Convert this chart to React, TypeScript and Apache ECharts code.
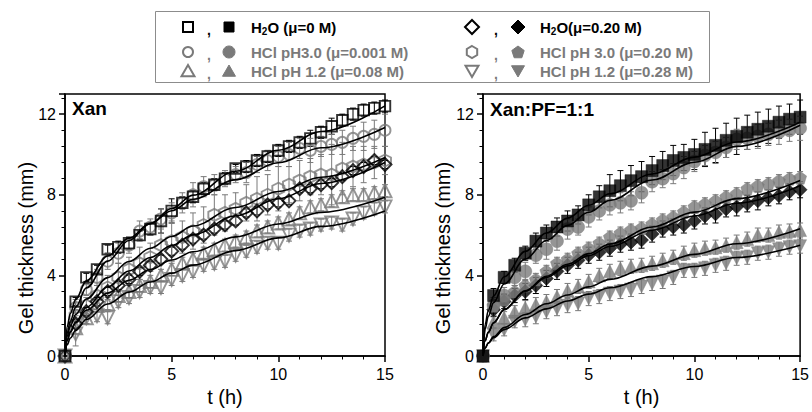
import React, { useEffect, useRef } from "react";
import * as echarts from "echarts";

// time points (h)
const T = [0, 0.5, 1, 1.5, 2, 2.5, 3, 3.5, 4, 4.5, 5, 5.5, 6, 6.5, 7, 7.5, 8, 8.5, 9, 9.5, 10, 10.5, 11, 11.5, 12, 12.5, 13, 13.5, 14, 14.5, 15];

// ---- Xan (left panel), open symbols ----
const L_SQ = [0, 2.7, 3.9, 4.3, 5.3, 5.4, 5.6, 6.0, 6.3, 6.7, 7.2, 7.6, 7.9, 8.3, 8.5, 8.8, 9.3, 9.4, 9.7, 9.9, 10.2, 10.4, 10.6, 10.8, 11.1, 11.4, 11.7, 12.0, 12.2, 12.3, 12.4];
const L_CI = [0, 2.4, 3.3, 3.9, 4.7, 5.1, 5.5, 6.2, 6.4, 6.8, 7.1, 7.6, 8.0, 8.4, 8.5, 8.8, 9.0, 9.1, 9.5, 9.7, 9.9, 10.0, 10.3, 10.2, 10.4, 10.5, 10.6, 10.8, 10.9, 11.0, 11.2];
const L_UP = [0, 1.4, 1.9, 2.5, 2.6, 3.0, 3.2, 3.5, 3.7, 4.0, 4.3, 4.6, 4.8, 5.1, 5.3, 5.5, 5.7, 5.9, 6.2, 6.4, 6.6, 6.8, 7.1, 7.4, 7.5, 7.7, 7.9, 8.0, 8.0, 8.1, 8.2];
const L_DI = [0, 1.6, 2.2, 2.7, 3.2, 3.5, 3.8, 4.2, 4.5, 4.8, 5.2, 5.5, 5.8, 6.0, 6.3, 6.5, 6.7, 7.1, 7.2, 7.5, 7.6, 7.7, 8.3, 8.3, 8.5, 8.6, 8.9, 9.2, 9.4, 9.7, 9.5];
const L_HX = [0, 2.0, 2.5, 3.0, 3.4, 3.9, 4.3, 4.6, 4.9, 5.5, 5.7, 5.9, 6.2, 6.5, 7.0, 7.1, 7.3, 7.6, 7.8, 8.0, 8.3, 8.5, 8.7, 8.9, 9.0, 9.0, 9.3, 9.4, 9.5, 9.6, 9.7];
const L_DN = [0, 1.1, 1.9, 2.0, 1.9, 2.7, 2.9, 3.2, 3.4, 3.4, 3.8, 4.0, 4.2, 4.5, 4.6, 4.7, 5.0, 5.2, 5.4, 5.6, 5.6, 6.0, 6.2, 6.3, 6.5, 6.6, 6.5, 6.8, 7.1, 7.3, 7.4];

const EL_SQ = [0, 0.2, 0.2, 0.2, 0.2, 0.3, 0.3, 0.2, 0.3, 0.6, 0.6, 0.3, 0.3, 0.3, 0.3, 0.3, 0.2, 0.3, 0.3, 0.3, 0.3, 0.3, 0.3, 0.4, 0.3, 0.4, 0.3, 0.3, 0.3, 0.3, 0.3];
const EL_CI = [0, 0.4, 0.3, 0.4, 0.4, 0.5, 0.4, 0.5, 0.4, 0.5, 0.5, 0.5, 0.6, 0.5, 0.5, 0.4, 0.4, 0.5, 0.4, 0.5, 0.5, 0.6, 0.5, 0.6, 0.5, 0.5, 0.6, 0.6, 0.7, 0.7, 0.8];
const EL_UP = [0, 0.3, 0.3, 0.3, 0.3, 0.3, 0.3, 0.3, 0.3, 0.3, 0.3, 0.3, 0.3, 0.3, 0.3, 0.3, 0.3, 0.3, 0.3, 0.3, 0.3, 0.3, 0.3, 0.3, 0.3, 0.3, 0.3, 0.3, 0.3, 0.3, 0.3];
const EL_DI = [0, 0.2, 0.2, 0.2, 0.2, 0.2, 0.2, 0.2, 0.2, 0.2, 0.2, 0.2, 0.2, 0.2, 0.2, 0.2, 0.2, 0.2, 0.2, 0.2, 0.2, 0.2, 0.2, 0.2, 0.2, 0.2, 0.2, 0.2, 0.2, 0.2, 0.2];
const EL_HX = [0, 0.3, 0.4, 0.5, 0.6, 0.7, 0.6, 0.8, 0.7, 0.9, 1.0, 0.8, 0.9, 0.9, 1.0, 0.9, 0.8, 0.9, 1.1, 1.0, 1.1, 0.9, 1.0, 0.9, 1.0, 1.5, 1.3, 1.0, 0.9, 0.8, 0.7];
const EL_DN = [0, 0.6, 0.3, 0.3, 0.3, 0.3, 0.3, 0.3, 0.3, 0.3, 0.3, 0.3, 0.3, 0.3, 0.3, 0.3, 0.3, 0.3, 0.3, 0.3, 0.3, 0.3, 0.3, 0.3, 0.3, 0.3, 0.3, 0.3, 0.3, 0.3, 0.3];

// ---- Xan:PF=1:1 (right panel), filled symbols ----
const R_SQ = [0, 3.0, 3.9, 4.5, 5.1, 5.7, 6.1, 6.4, 6.7, 7.0, 7.5, 7.9, 8.2, 8.45, 8.7, 8.9, 9.2, 9.45, 9.7, 9.85, 10.0, 10.25, 10.45, 10.7, 10.9, 11.1, 11.25, 11.4, 11.6, 11.75, 11.85];
const R_CI = [0, 2.5, 3.0, 3.9, 4.2, 5.0, 5.3, 5.7, 6.3, 6.4, 6.9, 7.2, 7.5, 7.6, 7.7, 8.1, 8.65, 8.8, 9.05, 9.35, 9.65, 9.95, 10.1, 10.35, 10.75, 10.8, 10.9, 11.0, 11.1, 11.2, 11.3];
const R_UP = [0, 1.7, 1.9, 2.2, 2.4, 2.55, 2.7, 2.95, 3.25, 3.45, 3.7, 4.0, 4.2, 4.35, 4.45, 4.5, 4.6, 4.75, 4.9, 5.1, 5.25, 5.35, 5.4, 5.5, 5.65, 5.8, 6.0, 6.0, 6.15, 6.2, 6.25];
const R_DI = [0, 2.3, 2.7, 3.0, 3.2, 3.5, 3.85, 4.2, 4.5, 4.75, 5.0, 5.15, 5.35, 5.55, 5.65, 5.75, 6.05, 6.3, 6.4, 6.5, 6.7, 6.95, 7.05, 7.3, 7.4, 7.55, 7.7, 7.85, 7.95, 8.15, 8.25];
const R_PE = [0, 2.5, 2.8, 3.2, 3.5, 3.8, 4.2, 4.6, 4.8, 5.1, 5.35, 5.6, 5.9, 6.1, 6.25, 6.35, 6.55, 6.75, 6.9, 7.15, 7.4, 7.55, 7.7, 7.9, 8.05, 8.3, 8.45, 8.55, 8.7, 8.8, 8.85];
const R_DN = [0, 1.05, 1.3, 1.7, 1.8, 1.95, 2.2, 2.35, 2.5, 2.6, 2.85, 2.95, 3.1, 3.2, 3.3, 3.45, 3.6, 3.7, 3.9, 4.25, 4.25, 4.35, 4.5, 4.6, 4.85, 4.9, 5.1, 5.15, 5.3, 5.4, 5.45];

const ER_SQ = [0, 0.35, 0.3, 0.35, 0.35, 0.4, 0.4, 0.45, 0.5, 0.45, 0.5, 0.55, 0.8, 0.75, 0.75, 0.75, 0.7, 0.7, 0.75, 0.65, 0.75, 0.85, 0.85, 0.85, 0.9, 0.85, 0.85, 0.85, 0.8, 0.75, 0.85];
const ER_CI = [0, 0.4, 0.4, 0.4, 0.45, 0.4, 0.5, 0.45, 0.5, 0.4, 0.5, 0.45, 0.5, 0.5, 0.45, 0.5, 0.5, 0.45, 0.5, 0.55, 0.5, 0.5, 0.55, 0.5, 0.5, 0.55, 0.6, 0.55, 0.6, 0.55, 0.6];
const ER_UP = [0, 0.3, 0.3, 0.3, 0.35, 0.35, 0.35, 0.35, 0.35, 0.35, 0.35, 0.35, 0.35, 0.35, 0.35, 0.35, 0.35, 0.35, 0.35, 0.35, 0.35, 0.35, 0.35, 0.35, 0.35, 0.35, 0.35, 0.35, 0.35, 0.35, 0.35];
const ER_DI = [0, 0.35, 0.35, 0.35, 0.4, 0.4, 0.4, 0.4, 0.4, 0.4, 0.4, 0.4, 0.4, 0.4, 0.4, 0.4, 0.4, 0.4, 0.4, 0.4, 0.4, 0.4, 0.45, 0.4, 0.45, 0.4, 0.45, 0.4, 0.4, 0.4, 0.4];
const ER_PE = [0, 0.3, 0.3, 0.3, 0.3, 0.3, 0.3, 0.3, 0.3, 0.3, 0.3, 0.3, 0.3, 0.3, 0.3, 0.3, 0.3, 0.3, 0.3, 0.3, 0.3, 0.3, 0.3, 0.3, 0.3, 0.3, 0.3, 0.3, 0.3, 0.3, 0.3];
const ER_DN = [0, 0.3, 0.3, 0.3, 0.35, 0.35, 0.35, 0.35, 0.35, 0.35, 0.35, 0.35, 0.35, 0.35, 0.35, 0.35, 0.35, 0.35, 0.35, 0.35, 0.35, 0.35, 0.35, 0.35, 0.35, 0.35, 0.35, 0.35, 0.35, 0.35, 0.35];

// ---- fitted curves ----
const FIT_T = [0, 0.1, 0.25, 0.5, 1, 2, 3, 4, 5, 6, 8, 10, 12, 15];
const FL_SQ = [0, 1.12, 1.74, 2.42, 3.38, 4.71, 5.73, 6.57, 7.32, 7.98, 9.17, 10.21, 11.14, 12.41];
const FL_CI = [0, 1.45, 2.11, 2.81, 3.73, 4.96, 5.85, 6.58, 7.21, 7.77, 8.75, 9.59, 10.33, 11.34];
const FL_HX = [0, 0.98, 1.49, 2.06, 2.83, 3.89, 4.69, 5.35, 5.93, 6.45, 7.37, 8.16, 8.87, 9.85];
const FL_DI = [0, 0.74, 1.19, 1.69, 2.41, 3.43, 4.22, 4.89, 5.48, 6.01, 6.96, 7.8, 8.56, 9.6];
const FL_UP = [0, 0.79, 1.2, 1.65, 2.27, 3.12, 3.76, 4.29, 4.76, 5.17, 5.91, 6.55, 7.12, 7.88];
const FL_DN = [0, 0.56, 0.89, 1.27, 1.81, 2.58, 3.17, 3.67, 4.11, 4.51, 5.23, 5.86, 6.43, 7.2];
const FR_SQ = [0, 1.56, 2.26, 2.98, 3.93, 5.19, 6.1, 6.84, 7.48, 8.05, 9.03, 9.87, 10.62, 11.6];
const FR_CI = [0, 1.33, 1.97, 2.65, 3.57, 4.81, 5.73, 6.48, 7.13, 7.72, 8.73, 9.61, 10.4, 11.45];
const FR_PE = [0, 0.75, 1.17, 1.64, 2.31, 3.24, 3.96, 4.55, 5.08, 5.56, 6.4, 7.14, 7.81, 8.71];
const FR_DI = [0, 0.76, 1.18, 1.65, 2.3, 3.21, 3.9, 4.47, 4.98, 5.43, 6.24, 6.95, 7.58, 8.45];
const FR_UP = [0, 0.39, 0.65, 0.96, 1.41, 2.06, 2.59, 3.03, 3.43, 3.8, 4.46, 5.04, 5.57, 6.32];
const FR_DN = [0, 0.39, 0.63, 0.91, 1.31, 1.89, 2.34, 2.73, 3.07, 3.39, 3.94, 4.44, 4.89, 5.5];

const Y_TICKS = [0, 4, 8, 12];
const X_TICKS = [0, 5, 10, 15];
const PANEL_TITLES = ["Xan", "Xan:PF=1:1"];
const X_TITLE = "t (h)";
const Y_TITLE = "Gel thickness (mm)";
const LEGEND_ROWS = [
  ["H2O (μ=0 M)", "H2O(μ=0.20 M)"],
  ["HCl pH3.0 (μ=0.001 M)", "HCl pH 3.0 (μ=0.20 M)"],
  ["HCl pH 1.2 (μ=0.08 M)", "HCl pH 1.2 (μ=0.28 M)"],
];

const BLACK = "#000000";
const GREY = "#7a7a7a";
const FONT = "'Liberation Sans', Arial, Helvetica, sans-serif";

const PENTA = "path://M0,-10 L9.51,-3.09 L5.88,8.09 L-5.88,8.09 L-9.51,-3.09 Z";
const HEXA = "path://M0,-10 L8.66,-5 L8.66,5 L0,10 L-8.66,5 L-8.66,-5 Z";

function scatter(ax: number, vals: number[], symbol: string, size: number, color: string, filled: boolean, rotate = 0, z = 3) {
  return {
    type: "scatter",
    xAxisIndex: ax,
    yAxisIndex: ax,
    data: T.map((t, i) => [t, vals[i]]),
    symbol,
    symbolSize: size,
    symbolRotate: rotate,
    itemStyle: filled
      ? { color, borderColor: color, borderWidth: 0.5 }
      : { color: "rgba(255,255,255,0)", borderColor: color, borderWidth: 1.9 },
    z,
    silent: true,
  };
}

function errBars(ax: number, vals: number[], errs: number[], color: string) {
  const data: number[][] = [];
  T.forEach((t, i) => {
    if (errs[i] > 0) data.push([t, vals[i] - errs[i], vals[i] + errs[i]]);
  });
  return {
    type: "custom",
    xAxisIndex: ax,
    yAxisIndex: ax,
    data,
    encode: { x: 0, y: [1, 2] },
    z: 2,
    silent: true,
    renderItem: (_p: any, api: any) => {
      const x = api.value(0);
      const a = api.coord([x, api.value(2)]);
      const b = api.coord([x, api.value(1)]);
      const w = 3;
      const st = { stroke: color, lineWidth: 1 };
      return {
        type: "group",
        children: [
          { type: "line", shape: { x1: a[0], y1: a[1], x2: b[0], y2: b[1] }, style: st },
          { type: "line", shape: { x1: a[0] - w, y1: a[1], x2: a[0] + w, y2: a[1] }, style: st },
          { type: "line", shape: { x1: b[0] - w, y1: b[1], x2: b[0] + w, y2: b[1] }, style: st },
        ],
      };
    },
  };
}

function fit(ax: number, vals: number[]) {
  return {
    type: "line",
    xAxisIndex: ax,
    yAxisIndex: ax,
    data: FIT_T.map((t, i) => [t, vals[i]]),
    smooth: 0.35,
    smoothMonotone: "x",
    showSymbol: false,
    symbol: "none",
    lineStyle: { color: BLACK, width: 1.6 },
    z: 5,
    silent: true,
  };
}

function xAxis(idx: number) {
  return {
    type: "value",
    gridIndex: idx,
    min: X_TICKS[0],
    max: X_TICKS[X_TICKS.length - 1],
    interval: 5,
    axisLine: { lineStyle: { color: BLACK, width: 1.5 } },
    axisTick: { length: 6, lineStyle: { color: BLACK, width: 1.5 } },
    minorTick: { show: true, splitNumber: 5, length: 3.5, lineStyle: { color: BLACK, width: 1 } },
    splitLine: { show: false },
    axisLabel: { fontSize: 16, color: BLACK, fontFamily: FONT, margin: 10 },
    name: X_TITLE,
    nameLocation: "middle",
    nameGap: 31,
    nameTextStyle: { fontSize: 20, color: BLACK, fontFamily: FONT },
  };
}

function yAxis(idx: number) {
  return {
    type: "value",
    gridIndex: idx,
    min: 0,
    max: 13,
    interval: 4,
    axisLine: { lineStyle: { color: BLACK, width: 1.5 } },
    axisTick: { length: 6, lineStyle: { color: BLACK, width: 1.5 } },
    minorTick: { show: true, splitNumber: 5, length: 3.5, lineStyle: { color: BLACK, width: 1 } },
    splitLine: { show: false },
    axisLabel: {
      fontSize: 16,
      color: BLACK,
      fontFamily: FONT,
      margin: 9,
      formatter: (v: number) => (Y_TICKS.includes(v) ? String(v) : ""),
    },
  };
}

function poly(cx: number, cy: number, r: number, n: number, rot: number) {
  const pts: number[][] = [];
  for (let k = 0; k < n; k++) {
    const a = rot + (k * 2 * Math.PI) / n;
    pts.push([cx + r * Math.cos(a), cy + r * Math.sin(a)]);
  }
  return pts;
}

function legendGlyph(kind: string, cx: number, cy: number, color: string, filled: boolean) {
  const style = filled
    ? { fill: color, stroke: color, lineWidth: 1 }
    : { fill: "none", stroke: color, lineWidth: 2 };
  const up = -Math.PI / 2;
  switch (kind) {
    case "square":
      return { type: "rect", shape: { x: cx - 5, y: cy - 5, width: 10, height: 10 }, style };
    case "circle":
      return { type: "circle", shape: { cx, cy, r: filled ? 6 : 5 }, style };
    case "up":
      return { type: "polygon", shape: { points: poly(cx, cy + 1.5, 7.5, 3, up) }, style };
    case "down":
      return { type: "polygon", shape: { points: poly(cx, cy - 1.5, 7.5, 3, -up) }, style };
    case "diamond":
      return { type: "polygon", shape: { points: poly(cx, cy, 7, 4, up) }, style };
    case "penta":
      return { type: "polygon", shape: { points: poly(cx, cy + 0.5, 6.5, 5, up) }, style };
    default:
      return { type: "polygon", shape: { points: poly(cx, cy, 6, 6, up) }, style };
  }
}

function legendLabel(label: string, x: number, y: number, color: string) {
  const base = { fontSize: 15, fontWeight: "bold", fontFamily: FONT, fill: color, lineHeight: 18 };
  const isWater = label.startsWith("H2O");
  const text = isWater ? "{b|H}{s|2}{b|" + label.slice(2) + "}" : "{b|" + label + "}";
  return {
    type: "text",
    x,
    y,
    style: {
      text,
      rich: {
        b: { ...base },
        s: { fontSize: 10, fontWeight: "bold", fontFamily: FONT, fill: color, lineHeight: 8, verticalAlign: "bottom" },
      },
      align: "left",
      verticalAlign: "middle",
    },
  };
}

function buildGraphics() {
  const els: any[] = [];
  els.push({
    type: "rect",
    shape: { x: 155.5, y: 11.5, width: 554, height: 71 },
    style: { fill: "none", stroke: "#8c8c8c", lineWidth: 1 },
  });
  const rowsY = [27, 52, 71];
  const cols = [
    { open: 188, comma: 209, filled: 229, text: 251 },
    { open: 472, comma: 496, filled: 518, text: 540 },
  ];
  const kinds = [
    ["square", "diamond"],
    ["circle", "hexa"],
    ["up", "down"],
  ];
  const kindsFilled = [
    ["square", "diamond"],
    ["circle", "penta"],
    ["up", "down"],
  ];
  rowsY.forEach((y, r) => {
    cols.forEach((c, ci) => {
      const color = r === 0 ? BLACK : GREY;
      els.push(legendGlyph(kinds[r][ci], c.open, y, color, false));
      els.push({
        type: "text",
        x: c.comma,
        y: y + 3,
        style: {
          text: ",",
          fontSize: 14,
          fontWeight: "bold",
          fontFamily: FONT,
          fill: color,
          align: "center",
          verticalAlign: "middle",
        },
      });
      els.push(legendGlyph(kindsFilled[r][ci], c.filled, y, color, true));
      els.push(legendLabel(LEGEND_ROWS[r][ci], c.text, y, color));
    });
  });
  els.push({
    type: "text",
    x: 72,
    y: 108,
    style: { text: PANEL_TITLES[0], fontSize: 19, fontWeight: "bold", fontFamily: FONT, fill: BLACK, align: "left", verticalAlign: "middle" },
  });
  els.push({
    type: "text",
    x: 490,
    y: 109,
    style: { text: PANEL_TITLES[1], fontSize: 19, fontWeight: "bold", fontFamily: FONT, fill: BLACK, align: "left", verticalAlign: "middle" },
  });
  [26, 443].forEach((cx) => {
    els.push({
      type: "text",
      x: cx,
      y: 248,
      rotation: Math.PI / 2,
      style: { text: Y_TITLE, fontSize: 20, fontFamily: FONT, fill: BLACK, align: "center", verticalAlign: "middle" },
    });
  });
  return els;
}

export default function App() {
  const ref = useRef<HTMLDivElement>(null);
  useEffect(() => {
    if (!ref.current) return;
    const chart = echarts.init(ref.current, undefined, { renderer: "svg" });
    const option: any = {
      animation: false,
      backgroundColor: "#ffffff",
      grid: [
        { left: 65, right: 427, top: 94, bottom: 54, show: true, borderColor: BLACK, borderWidth: 1.5, backgroundColor: "transparent" },
        { left: 483, right: 9, top: 94, bottom: 54, show: true, borderColor: BLACK, borderWidth: 1.5, backgroundColor: "transparent" },
      ],
      xAxis: [xAxis(0), xAxis(1)],
      yAxis: [yAxis(0), yAxis(1)],
      graphic: buildGraphics(),
      series: [
        // left: error bars
        errBars(0, L_SQ, EL_SQ, BLACK),
        errBars(0, L_CI, EL_CI, GREY),
        errBars(0, L_UP, EL_UP, GREY),
        errBars(0, L_DI, EL_DI, BLACK),
        errBars(0, L_HX, EL_HX, GREY),
        errBars(0, L_DN, EL_DN, GREY),
        // left: markers
        scatter(0, L_DN, "triangle", 13, GREY, false, 180),
        scatter(0, L_UP, "triangle", 13, GREY, false),
        scatter(0, L_HX, HEXA, 12, GREY, false),
        scatter(0, L_DI, "diamond", 13, BLACK, false),
        scatter(0, L_CI, "circle", 11, GREY, false),
        scatter(0, L_SQ, "rect", 10.5, BLACK, false),
        // left: fits
        fit(0, FL_SQ),
        fit(0, FL_CI),
        fit(0, FL_HX),
        fit(0, FL_DI),
        fit(0, FL_UP),
        fit(0, FL_DN),
        // right: error bars
        errBars(1, R_SQ, ER_SQ, BLACK),
        errBars(1, R_CI, ER_CI, GREY),
        errBars(1, R_UP, ER_UP, GREY),
        errBars(1, R_DI, ER_DI, BLACK),
        errBars(1, R_PE, ER_PE, GREY),
        errBars(1, R_DN, ER_DN, GREY),
        // right: markers
        scatter(1, R_DN, "triangle", 13, GREY, true, 180),
        scatter(1, R_UP, "triangle", 13, GREY, true),
        scatter(1, R_DI, "diamond", 14, BLACK, true),
        scatter(1, R_PE, PENTA, 13, GREY, true),
        scatter(1, R_CI, "circle", 13, GREY, true),
        scatter(1, R_SQ, "rect", 12, BLACK, true),
        // right: fits
        fit(1, FR_SQ),
        fit(1, FR_CI),
        fit(1, FR_PE),
        fit(1, FR_DI),
        fit(1, FR_UP),
        fit(1, FR_DN),
      ],
    };
    chart.setOption(option);
    return () => chart.dispose();
  }, []);
  return (
    <div
      ref={ref}
      style={{ position: "fixed", left: 0, top: 0, width: 812, height: 412, background: "#fff" }}
    />
  );
}
